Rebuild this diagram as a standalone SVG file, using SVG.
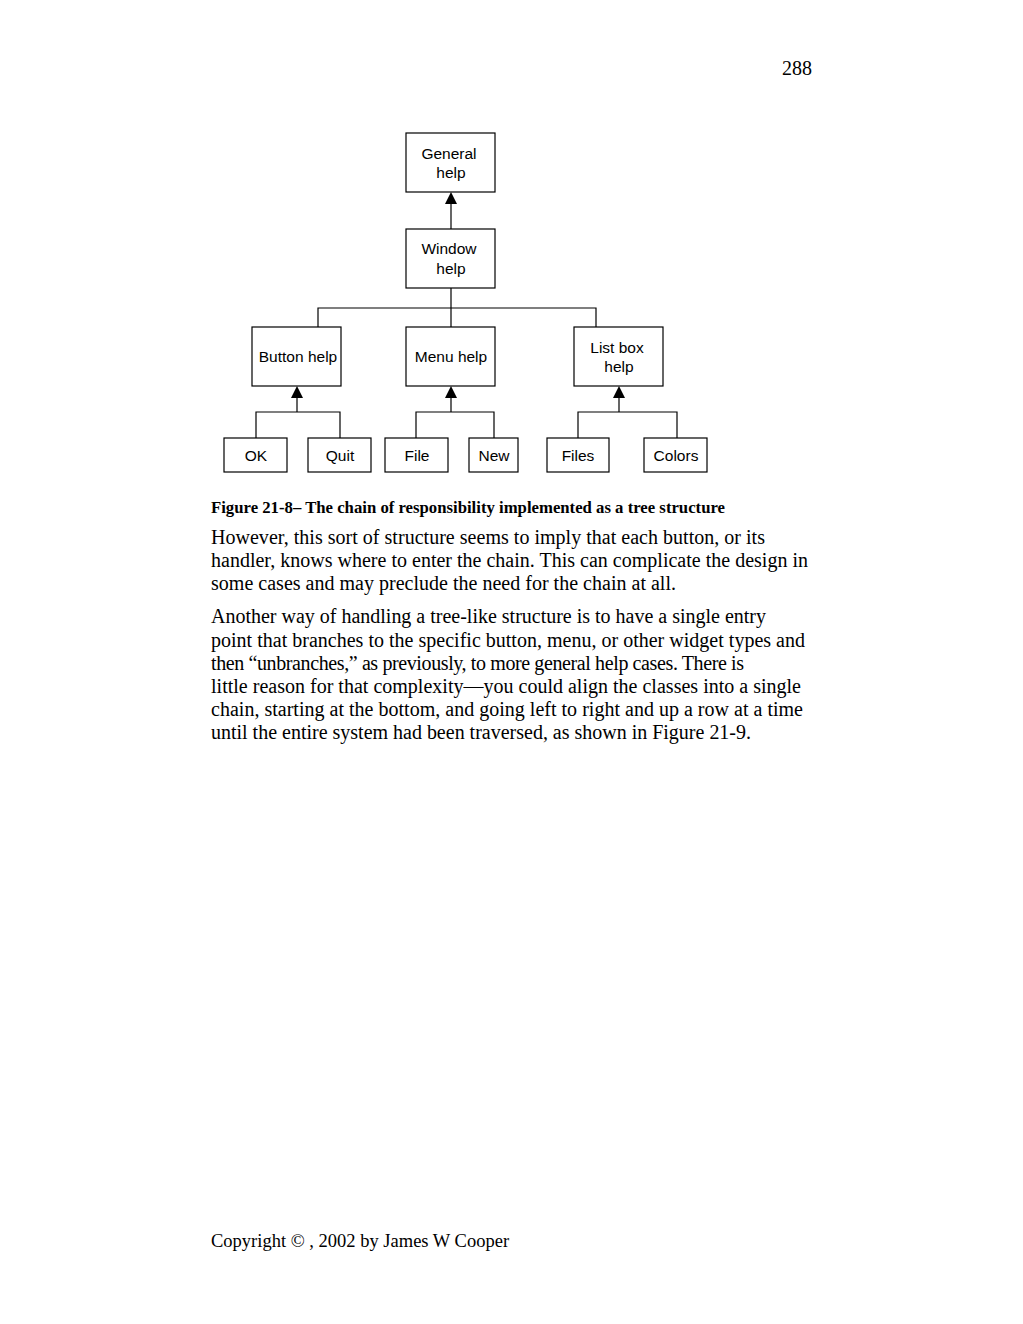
<svg xmlns="http://www.w3.org/2000/svg" width="1023" height="1324" viewBox="0 0 1023 1324">
<style>
.box{fill:#fff;stroke:#000;stroke-width:1.2}
.lbl{font-family:"Liberation Sans",Arial,sans-serif;font-size:15.5px;fill:#000;text-anchor:middle}
.con{fill:none;stroke:#000;stroke-width:1.2}
.body{font-family:"Liberation Serif","Times New Roman",serif;font-size:20px;fill:#000}
.cap{font-family:"Liberation Serif","Times New Roman",serif;font-size:16px;font-weight:bold;fill:#000}
</style>
<rect width="1023" height="1324" fill="#fff"/>
<text class="body" x="812" y="75" text-anchor="end">288</text>
<g id="connectors">
<path class="con" d="M451,229 V202"/>
<polygon points="451,192 445,204 457,204"/>
<path class="con" d="M451,288 V308 M318,327 V308 H596 V327 M451,308 V327"/>
<path class="con" d="M256,438 V412 H340 V438 M297,412 V396"/>
<polygon points="297,386 291,398 303,398"/>
<path class="con" d="M416,438 V412 H494 V438 M451,412 V396"/>
<polygon points="451,386 445,398 457,398"/>
<path class="con" d="M578,438 V412 H677 V438 M619,412 V396"/>
<polygon points="619,386 613,398 625,398"/>
</g>
<g id="general"><rect class="box" x="406" y="133" width="89" height="59"/><text class="lbl" x="449" y="159">General</text><text class="lbl" x="451" y="178">help</text></g>
<g id="window"><rect class="box" x="406" y="229" width="89" height="59"/><text class="lbl" x="449" y="254">Window</text><text class="lbl" x="451" y="274">help</text></g>
<g id="button"><rect class="box" x="252" y="327" width="89" height="59"/><text class="lbl" x="298" y="362">Button help</text></g>
<g id="menu"><rect class="box" x="406" y="327" width="89" height="59"/><text class="lbl" x="451" y="362">Menu help</text></g>
<g id="listbox"><rect class="box" x="574" y="327" width="89" height="59"/><text class="lbl" x="617" y="353">List box</text><text class="lbl" x="619" y="372">help</text></g>
<g id="ok"><rect class="box" x="224" y="438" width="63" height="34"/><text class="lbl" x="256" y="461">OK</text></g>
<g id="quit"><rect class="box" x="308" y="438" width="63" height="34"/><text class="lbl" x="340" y="461">Quit</text></g>
<g id="file"><rect class="box" x="385" y="438" width="63" height="34"/><text class="lbl" x="417" y="461">File</text></g>
<g id="new"><rect class="box" x="469" y="438" width="49" height="34"/><text class="lbl" x="494" y="461">New</text></g>
<g id="files"><rect class="box" x="547" y="438" width="62" height="34"/><text class="lbl" x="578" y="461">Files</text></g>
<g id="colors"><rect class="box" x="644" y="438" width="63" height="34"/><text class="lbl" x="676" y="461">Colors</text></g>
<text class="cap" x="211" y="513" textLength="514" lengthAdjust="spacingAndGlyphs">Figure 21-8– The chain of responsibility implemented as a tree structure</text>
<text class="body" x="211" y="544" textLength="554">However, this sort of structure seems to imply that each button, or its</text>
<text class="body" x="211" y="567" textLength="597">handler, knows where to enter the chain. This can complicate the design in</text>
<text class="body" x="211" y="590" textLength="465">some cases and may preclude the need for the chain at all.</text>
<text class="body" x="211" y="623" textLength="555">Another way of handling a tree-like structure is to have a single entry</text>
<text class="body" x="211" y="647" textLength="594">point that branches to the specific button, menu, or other widget types and</text>
<text class="body" x="211" y="670" textLength="533">then “unbranches,” as previously, to more general help cases. There is</text>
<text class="body" x="211" y="693" textLength="590">little reason for that complexity—you could align the classes into a single</text>
<text class="body" x="211" y="716" textLength="592">chain, starting at the bottom, and going left to right and up a row at a time</text>
<text class="body" x="211" y="739" textLength="540">until the entire system had been traversed, as shown in Figure 21-9.</text>
<text class="body" x="211" y="1247" style="font-size:18.5px">Copyright © , 2002 by James W Cooper</text>
</svg>
